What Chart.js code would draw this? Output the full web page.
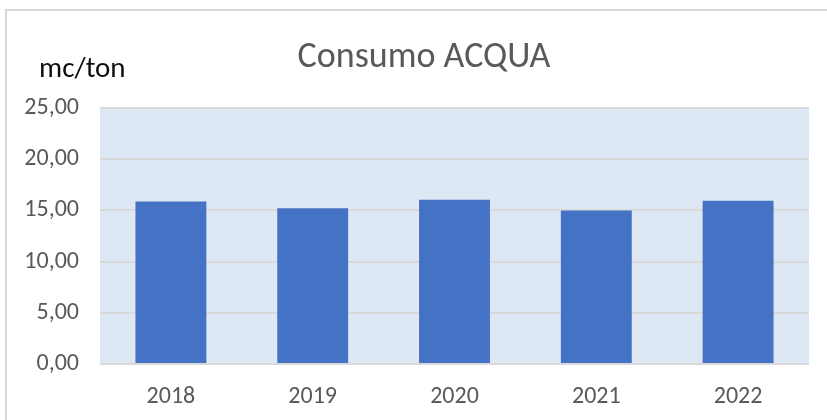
<!DOCTYPE html>
<html>
<head>
<meta charset="utf-8">
<script src="https://cdn.jsdelivr.net/npm/chart.js@4"></script>
<style>
  body { margin: 0; background: #fff; }
</style>
</head>
<body>
<canvas id="chart" width="827" height="420"></canvas>
<script>
// DATA
const categories = ['2018', '2019', '2020', '2021', '2022'];
const consumo = [15.88, 15.2, 16.05, 15.0, 15.95];
const yTicks = ['0,00', '5,00', '10,00', '15,00', '20,00', '25,00'];
const titleText = 'Consumo ACQUA';
const unitText = 'mc/ton';

const FONT = 'Calibri, Carlito, Lato, sans-serif';

// background, frame and texts
const decor = {
    id: 'decor',
    beforeDraw(chart) {
        const { ctx, chartArea: a } = chart;
        ctx.save();
        ctx.fillStyle = '#fff';
        ctx.fillRect(0, 0, chart.width, chart.height);
        ctx.fillStyle = '#dde8f4';
        ctx.fillRect(a.left, a.top, a.right - a.left, a.bottom - a.top);
        ctx.strokeStyle = '#d9d9d9';
        ctx.lineWidth = 2;
        ctx.strokeRect(6, 10, 900, 500);
        ctx.restore();
    },
    afterDraw(chart) {
        const ctx = chart.ctx;
        ctx.save();
        ctx.fillStyle = '#595959';
        ctx.font = '36px ' + FONT;
        ctx.textAlign = 'center';
        ctx.fillText(titleText, 424, 67);
        ctx.fillStyle = '#0d0d0d';
        ctx.font = '29px ' + FONT;
        ctx.textAlign = 'left';
        ctx.fillText(unitText, 39, 77);
        ctx.restore();
    }
};

new Chart(document.getElementById('chart'), {
    type: 'bar',
    data: {
        labels: categories,
        datasets: [{
            data: consumo,
            backgroundColor: '#4472c4',
            categoryPercentage: 1,
            barPercentage: 0.5
        }]
    },
    options: {
        responsive: false,
        animation: false,
        devicePixelRatio: 1,
        layout: { padding: { left: 0, right: 18, top: 108, bottom: 0 } },
        plugins: {
            legend: { display: false },
            title: { display: false },
            tooltip: { enabled: false }
        },
        scales: {
            x: {
                grid: { display: false },
                border: { display: false },
                ticks: { color: '#595959', font: { family: FONT, size: 24 }, padding: 11 },
                afterFit: s => { s.height = 56; }
            },
            y: {
                min: 0,
                max: 25,
                ticks: {
                    stepSize: 5,
                    color: '#595959',
                    font: { family: FONT, size: 24 },
                    padding: 21,
                    callback: (v, i) => yTicks[i]
                },
                grid: { color: '#d9d9d9', lineWidth: 2, drawTicks: false },
                border: { display: false },
                afterFit: s => { s.width = 100; }
            }
        }
    },
    plugins: [decor]
});
</script>
</body>
</html>
